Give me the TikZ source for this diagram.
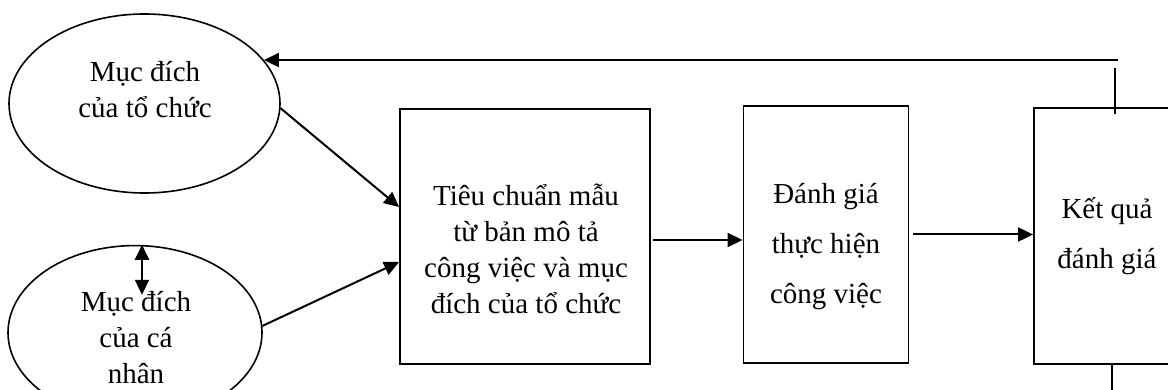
\documentclass[tikz,border=0pt]{standalone}
\usepackage{fontspec}
\setmainfont{Liberation Serif}
\usetikzlibrary{arrows.meta,shapes.geometric,calc}
\tikzset{
  conn/.style={line width=2pt},
  arr/.style={conn, -{Triangle[length=15pt,width=14pt]}},
  darr/.style={conn, {Triangle[length=15pt,width=14pt]}-{Triangle[length=15pt,width=14pt]}},
  oval/.style={draw, line width=1.6pt, ellipse, inner sep=0pt},
  boxn/.style={draw, line width=1.8pt, rectangle, inner sep=0pt},
  txt/.style={align=center, font=\fontsize{29}{36}\selectfont, inner sep=0pt},
  txtw/.style={align=center, font=\fontsize{29}{50}\selectfont, inner sep=0pt}
}
\begin{document}
\begin{tikzpicture}[x=1pt,y=1pt]
\useasboundingbox (0,0) rectangle (1168,-390);
\fill[white] (0,0) rectangle (1168,-390);
% shapes
\node[oval, minimum width=271pt, minimum height=179pt] (e1) at (144.5,-103.5) {};
\node[oval, minimum width=254pt, minimum height=174pt] (e2) at (135,-332.6) {};
\node[boxn, minimum width=250pt, minimum height=255pt] (b1) at (525,-236.5) {};
\node[boxn, minimum width=165pt, minimum height=257pt] (b2) at (826,-234.5) {};
\node[boxn, minimum width=146pt, minimum height=256pt] (b3) at (1107,-236) {};
% texts
\node[txt] (t1) at (145,-90) {Mục đích\\của tổ chức};
\node[txt] (t2) at (136,-338) {Mục đích\\của cá\\nhân};
\node[txt] (t3) at (526,-249) {Tiêu chuẩn mẫu\\từ bản mô tả\\công việc và mục\\đích của tổ chức};
\node[txtw] (t4) at (826,-247) {Đánh giá\\thực hiện\\công việc};
\node[txtw] (t5) at (1107,-236) {Kết quả\\đánh giá};
% connectors
\draw[arr] (e1.-2) -- ($(b1.west)+(0,29.5)$);
\draw[arr] (e2.3) -- ($(b1.west)+(0,-25.5)$);
\coordinate (d1) at ($(e2.north)+(7,0)$);
\coordinate (d2) at ($(e2.north)+(7,-50)$);
\draw[darr] (d1) -- (d2);
\coordinate (s1) at ($(b1.east)+(2,-3.5)$);
\draw[arr] (s1) -- (s1 -| b2.west);
\coordinate (s2) at ($(b2.east)+(4,0)$);
\draw[arr] (s2) -- (s2 -| b3.west);
% feedback
\coordinate (fx) at (1118,-61);
\draw[arr] (fx |- e1.20) -- (e1.20);
\coordinate (fv1) at (1115,-68);
\coordinate (fv2) at (1115,-114);
\draw[conn] (fv1) -- (fv2);
\coordinate (fb1) at (1112,-363);
\coordinate (fb2) at (1112,-395);
\draw[conn] (fb1) -- (fb2);
\end{tikzpicture}
\end{document}
